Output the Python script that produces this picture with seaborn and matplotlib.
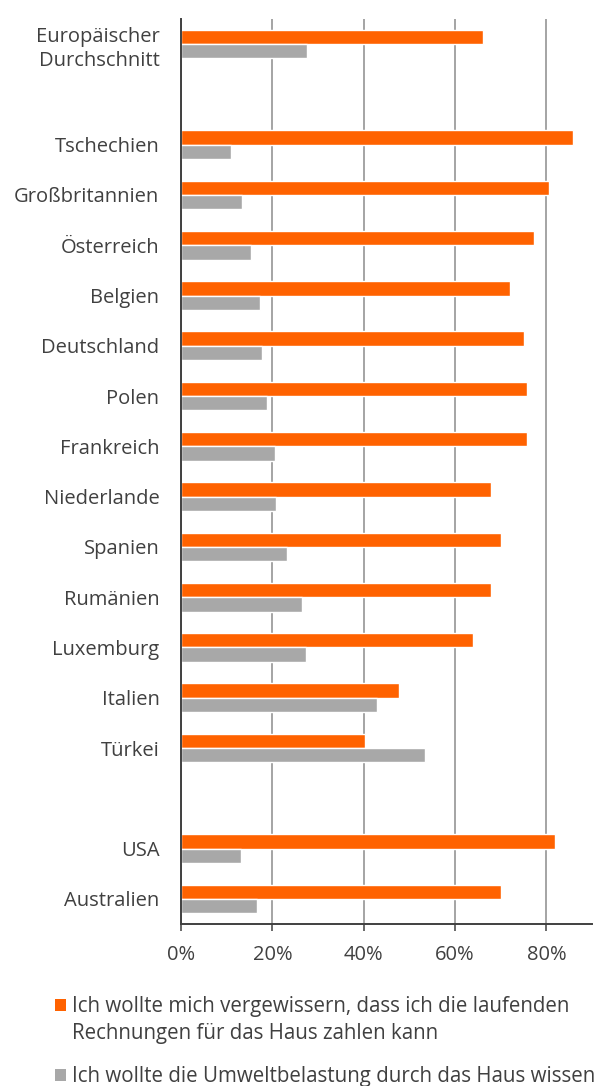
import matplotlib
matplotlib.use("Agg")
import matplotlib.pyplot as plt
import matplotlib.ticker as mticker
from matplotlib.patches import Rectangle
import seaborn as sns
import pandas as pd

### Data (share of respondents, %)
countries = [
    "Europäischer\nDurchschnitt", "Tschechien", "Großbritannien", "Österreich",
    "Belgien", "Deutschland", "Polen", "Frankreich", "Niederlande", "Spanien",
    "Rumänien", "Luxemburg", "Italien", "Türkei", "USA", "Australien",
]
bills = [66.2, 85.8, 80.5, 77.3, 72.1, 75.1, 75.7, 75.7, 67.9, 70.1,
         67.8, 64.0, 47.7, 40.4, 81.8, 70.0]
environment = [27.6, 10.9, 13.4, 15.4, 17.4, 17.8, 18.8, 20.5, 20.7, 23.3,
               26.5, 27.4, 43.0, 53.5, 13.2, 16.6]
series_names = [
    "Ich wollte mich vergewissern, dass ich die laufenden\nRechnungen für das Haus zahlen kann",
    "Ich wollte die Umweltbelastung durch das Haus wissen",
]
# blank rows separate the groups
row_order = countries[:1] + [""] + countries[1:14] + [" "] + countries[14:]
x_ticks = [0, 20, 40, 60, 80]

colors = ["#FF6200", "#A8A8A8"]
text_color = "#404040"

df = pd.DataFrame({
    "land": countries * 2,
    "wert": bills + environment,
    "serie": [series_names[0]] * len(countries) + [series_names[1]] * len(countries),
})

sns.set_style("white")
plt.rcParams["font.family"] = ["Open Sans", "DejaVu Sans"]

W, H = 605, 1086
fig = plt.figure(figsize=(W / 100, H / 100), dpi=100)
ax = fig.add_axes([181 / W, 1 - 924 / H, (592 - 181) / W, (924 - 19) / H])

sns.barplot(
    data=df, x="wert", y="land", hue="serie", order=row_order,
    hue_order=series_names, palette=colors, orient="h", width=0.57,
    saturation=1, legend=False, ax=ax,
)

ax.set_xlim(0, 90)
ax.set_ylim(17.5, -0.5)
ax.set_xticks(x_ticks)
ax.xaxis.set_major_formatter(mticker.PercentFormatter(decimals=0))
ax.set_xlabel("")
ax.set_ylabel("")

ax.grid(axis="x", color="#8C8C8C", linewidth=1.1)
ax.grid(axis="y", visible=False)
ax.set_axisbelow(True)
for side in ["top", "right"]:
    ax.spines[side].set_visible(False)
for side in ["left", "bottom"]:
    ax.spines[side].set_color("#404040")
    ax.spines[side].set_linewidth(1.4)

ax.tick_params(axis="x", bottom=True, length=5, width=1.1, color="#404040",
               pad=10, labelsize=14.5, labelcolor=text_color)
ax.tick_params(axis="y", left=False, pad=12, labelsize=14.5, labelcolor=text_color)
for lbl in ax.get_yticklabels():
    lbl.set_linespacing(1.3)
    lbl.set_verticalalignment("center_baseline")

### Legend drawn by hand below the chart
leg_y = [1005, 1075]
for name, col, yy in zip(series_names, colors, leg_y):
    fig.add_artist(Rectangle((55 / W, 1 - (yy + 6) / H), 11 / W, 12 / H,
                             transform=fig.transFigure, facecolor=col,
                             edgecolor="none"))
    fig.text(72 / W, 1 - (yy - 9) / H, name, fontsize=14.8, color=text_color,
             va="top", ha="left", linespacing=1.35)

fig.savefig("out.png", dpi=100)
